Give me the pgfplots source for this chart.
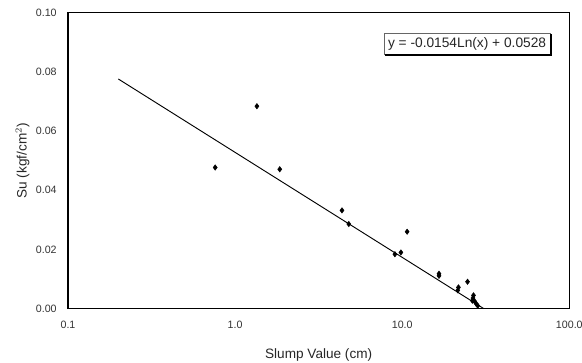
\documentclass[border=0pt]{standalone}
\usepackage{pgfplots}
\pgfplotsset{compat=1.18}
\usepackage{fontspec}
\setmainfont{Liberation Sans}
\begin{document}
\begin{tikzpicture}[x=1pt,y=1pt]
\path[use as bounding box] (0,0) rectangle (436.5,271.5);
\begin{axis}[
  at={(51pt,40pt)}, anchor=south west,
  scale only axis, width=376pt, height=222pt,
  xmode=log, xmin=0.1, xmax=100, ymin=0, ymax=0.1,
  xtick={0.1,1,10,100}, xticklabels={0.1,1.0,10.0,100.0},
  ytick={0,0.02,0.04,0.06,0.08,0.1},
  yticklabel style={/pgf/number format/fixed,/pgf/number format/fixed zerofill,/pgf/number format/precision=2, xshift=-5pt},
  xticklabel style={yshift=-6pt},
  /pgf/number format/assume math mode=true,
  scaled y ticks=false,
  tick label style={font=\fontsize{8}{9}\selectfont, text=black!80},
  major tick length=0pt, minor tick length=0pt,
  axis line style={line width=0.9pt},
  xlabel={Slump Value (cm)}, ylabel={Su (kgf/cm$^{2}$)},
  label style={font=\fontsize{10.2}{12}\selectfont, text=black!85},
  xlabel style={yshift=-8pt},
  ylabel style={yshift=-2pt},
  clip=false,
]
\addplot[black, line width=0.7pt] coordinates {(0.2,0.0776) (30.8,0.0)};
\addplot[only marks, mark=diamond*, mark size=2pt, black] coordinates {
(0.76,0.0477) (1.35,0.0684) (1.85,0.0471) (4.36,0.0332) (4.79,0.0286)
(10.7,0.0260) (9.04,0.0184) (9.82,0.0190) (16.6,0.0118) (16.6,0.0111)
(21.7,0.0072) (21.5,0.0062) (24.6,0.0091) (26.7,0.0045) (26.5,0.0036)
(27.1,0.0025) (27.7,0.0017) (28.3,0.0010) (26.3,0.0027)
};
\node[draw=black!60, line width=0.4pt, fill=white, inner sep=3pt, anchor=north east,
  font=\fontsize{10.3}{12}\selectfont, text=black!85] (eq) at (axis cs:77,0.0932) {y = -0.0154Ln(x) + 0.0528};
\draw[line width=1.3pt, black] ([xshift=1pt,yshift=-0.6pt]eq.south west) -- ([xshift=0.6pt,yshift=-0.6pt]eq.south east) -- ([xshift=0.6pt,yshift=-1pt]eq.north east);
\end{axis}
\end{tikzpicture}
\end{document}
